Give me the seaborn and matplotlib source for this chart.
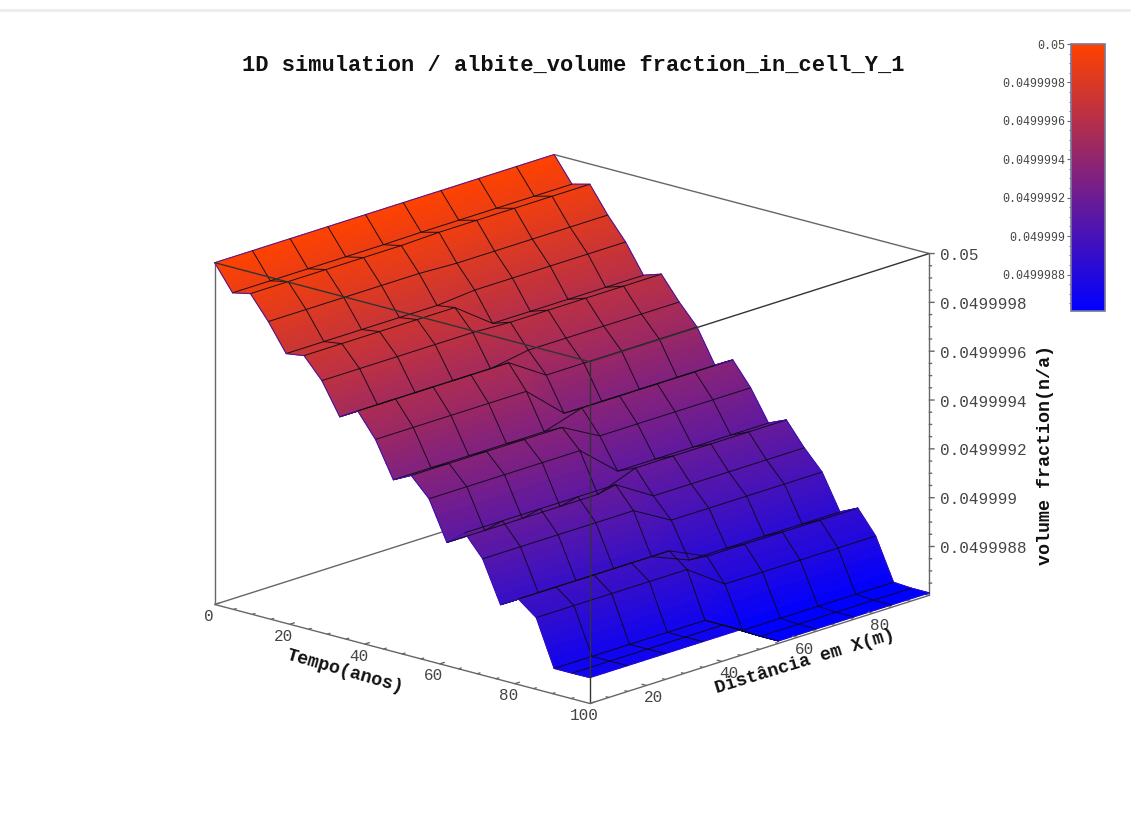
import numpy as np
import matplotlib
matplotlib.use("Agg")
import matplotlib.pyplot as plt
import seaborn as sns
from matplotlib.cm import ScalarMappable
from matplotlib.colors import Normalize
from matplotlib.lines import Line2D
from matplotlib.ticker import MultipleLocator
from mpl_toolkits.mplot3d import proj3d

# eixos da malha
tempo = [0, 4.76, 9.52, 14.29, 19.05, 23.81, 28.57, 33.33, 38.1, 42.86, 47.62,
         52.38, 57.14, 61.9, 66.67, 71.43, 76.19, 80.95, 85.71, 90.48, 95.24, 100]
distancia = [5, 15, 25, 35, 45, 55, 65, 75, 85, 95]

# perfil das colunas X = 5..45
fracao_esq = [0.05, 0.049999896, 0.049999912, 0.049999817, 0.049999705, 0.049999716,
              0.049999633, 0.049999504, 0.049999548, 0.04999945, 0.049999304, 0.049999341,
              0.049999265, 0.049999105, 0.049999164, 0.049999077, 0.049998908, 0.049998951,
              0.049998894, 0.049998705, 0.049998705, 0.049998706]
# perfil das colunas X = 55..95
fracao_dir = [0.05, 0.049999898, 0.049999917, 0.04999981, 0.049999719, 0.049999602,
              0.049999626, 0.049999531, 0.049999448, 0.049999311, 0.049999352, 0.049999257,
              0.049999132, 0.049999164, 0.049999069, 0.049998989, 0.049998845, 0.04999888,
              0.049998785, 0.049998615, 0.04999861, 0.04999861]
colunas_esq = 5
colunas_dir = 5

z_ticks = [0.05, 0.0499998, 0.0499996, 0.0499994, 0.0499992, 0.049999, 0.0499988]
z_labels = ["0.05", "0.0499998", "0.0499996", "0.0499994", "0.0499992", "0.049999", "0.0499988"]
t_ticks = [0, 20, 40, 60, 80, 100]
x_ticks = [20, 40, 60, 80]
t_minor = [5, 10, 15, 25, 30, 35, 45, 50, 55, 65, 70, 75, 85, 90, 95]
x_minor = [10, 15, 25, 30, 35, 45, 50, 55, 65, 70, 75, 85, 90]
z_minor = [0.04999995, 0.0499999, 0.04999985, 0.04999975, 0.0499997, 0.04999965, 0.04999955,
           0.0499995, 0.04999945, 0.04999935, 0.0499993, 0.04999925, 0.04999915, 0.0499991,
           0.04999905, 0.04999895, 0.0499989, 0.04999885, 0.04999875, 0.0499987, 0.04999865]

Z_MIN, Z_MAX = 0.0499986, 0.05
COR_EIXO = "#666666"
COR_FRENTE = "#333333"
COR_TEXTO = "#444444"
MONO = "Liberation Mono"
SUB = 5  # subdivisoes de cada celula, so para o degrade de cor

sns.set_theme(style="white")
plt.rcParams["font.family"] = [MONO, "DejaVu Sans"]

cmap = sns.blend_palette(["#0000ff", "#ff4200"], as_cmap=True)
norm = Normalize(vmin=0.04999861, vmax=Z_MAX)

W, H = 1131, 840
fig = plt.figure(figsize=(W / 100, H / 100), dpi=100, facecolor="white")
ax = fig.add_axes([173.5 / W, 12.5 / H, 776 / W, 776 / H], projection="3d", proj_type="ortho")
ax.set_box_aspect((507, 504, 357))
ax.view_init(elev=16.86, azim=-47.7)
ax.set_xlim(0, 100, view_margin=0)
ax.set_ylim(5, 95, view_margin=0)
ax.set_zlim(Z_MIN, Z_MAX, view_margin=0)
ax.set_axis_off()
ax.computed_zorder = False
ax.patch.set_alpha(0)

T, X = np.meshgrid(tempo, distancia, indexing="ij")
Z = np.array([fracao_esq] * colunas_esq + [fracao_dir] * colunas_dir).T

# sombreamento: as celulas sao repartidas so para a cor variar dentro delas
ni, nj = Z.shape
ii = np.linspace(0, ni - 1, (ni - 1) * SUB + 1)
jj = np.linspace(0, nj - 1, (nj - 1) * SUB + 1)
tf, xf = np.interp(ii, np.arange(ni), tempo), np.interp(jj, np.arange(nj), distancia)
Zf = np.array([np.interp(ii, np.arange(ni), Z[:, j]) for j in range(nj)]).T
Zf = np.array([np.interp(jj, np.arange(nj), linha) for linha in Zf])
Tf, Xf = np.meshgrid(tf, xf, indexing="ij")
media = (Zf[:-1, :-1] + Zf[1:, :-1] + Zf[:-1, 1:] + Zf[1:, 1:]) / 4
cores = cmap(norm(media))
surf = ax.plot_surface(Tf, Xf, Zf, rstride=1, cstride=1, facecolors=cores, shade=False,
                       linewidth=0.8, antialiased=True, zorder=2)
surf.set_edgecolor(cores.reshape(-1, 4))

# malha: linhas internas pretas, contorno azulado
for i in range(ni):
    borda = i == 0 or i == ni - 1
    ax.plot(T[i], X[i], Z[i], color="#3410b8" if borda else "#0a0a14",
            lw=0.7, alpha=0.55 if i == ni - 1 else 0.9, zorder=2.5)
for j in range(nj):
    borda = j == 0 or j == nj - 1
    ax.plot(T[:, j], X[:, j], Z[:, j], color="#3410b8" if borda else "#0a0a14",
            lw=0.7, alpha=0.9, zorder=2.5)


def aresta(p, q, zorder, cor=COR_EIXO):
    ax.plot([p[0], q[0]], [p[1], q[1]], [p[2], q[2]], color=cor, lw=1.0,
            zorder=zorder, clip_on=False)


# caixa: arestas de tras ficam sob a superficie, as da frente por cima
aresta((0, 5, Z_MIN), (0, 95, Z_MIN), 1)
aresta((0, 95, Z_MIN), (100, 95, Z_MIN), 1)
aresta((0, 95, Z_MIN), (0, 95, Z_MAX), 1)
aresta((0, 95, Z_MAX), (100, 95, Z_MAX), 1)
aresta((0, 5, Z_MIN), (0, 5, Z_MAX), 1)
aresta((100, 95, Z_MIN), (100, 95, Z_MAX), 1)
aresta((0, 5, Z_MAX), (100, 5, Z_MAX), 3, COR_FRENTE)
aresta((100, 5, Z_MAX), (100, 95, Z_MAX), 3, COR_FRENTE)
aresta((100, 5, Z_MAX), (100, 5, Z_MIN), 3, COR_FRENTE)
aresta((0, 5, Z_MIN), (100, 5, Z_MIN), 3)
aresta((100, 5, Z_MIN), (100, 95, Z_MIN), 3)

# marcas dos eixos
for t in t_ticks + t_minor:
    d = 1.2 if t in t_ticks else 0.7
    aresta((t, 5, Z_MIN), (t, 5 + d, Z_MIN), 3)
for x in x_ticks + x_minor:
    d = 1.2 if x in x_ticks else 0.7
    aresta((100, x, Z_MIN), (100 - d, x, Z_MIN), 3)
for z in z_ticks + z_minor:
    d = 1.0 if z in z_ticks else 0.5
    aresta((100, 95, z), (100 + d * 0.73, 95 + d * 0.6, z), 3)

M = ax.get_proj()


def rotulo(txt, p, dx, dy, ha="center"):
    px, py, _ = proj3d.proj_transform(p[0], p[1], p[2], M)
    ax.annotate(txt, (px, py), xytext=(dx, dy), textcoords="offset pixels", ha=ha, va="center",
                fontsize=11.5, color=COR_TEXTO, annotation_clip=False)


for t in t_ticks:
    rotulo(str(t), (t, 5, Z_MIN), -6, -12)
for x in x_ticks:
    rotulo(str(x), (100, x, Z_MIN), 7, -12)
for z, lab in zip(z_ticks, z_labels):
    rotulo(lab, (100, 95, z), 11, -2, ha="left")


def texto_fig(px, py, txt, **kw):
    fig.text(px / W, 1 - py / H, txt, ha="center", va="center", family=[MONO, "DejaVu Sans"],
             fontweight="bold", color="#111111", rotation_mode="anchor", **kw)


texto_fig(573, 65, "1D simulation / albite_volume fraction_in_cell_Y_1", fontsize=15.85)
texto_fig(345, 672, "Tempo(anos)", fontsize=13.2, rotation=-16)
texto_fig(805, 662, "Distância em X(m)", fontsize=13.2, rotation=17)
texto_fig(1046, 455, "volume fraction(n/a)", fontsize=13.2, rotation=90)

# barra de cores
cax = fig.add_axes([1071 / W, 1 - 311 / H, 34 / W, 267 / H])
cbar = fig.colorbar(ScalarMappable(norm=norm, cmap=cmap), cax=cax)
cbar.set_ticks(z_ticks, labels=z_labels)
cbar.ax.yaxis.set_ticks_position("left")
cbar.ax.yaxis.set_minor_locator(MultipleLocator(5e-8))
cbar.ax.tick_params(axis="y", which="major", labelsize=8.4, labelcolor=COR_TEXTO, length=3,
                    width=0.8, color=COR_EIXO, pad=1, left=True)
cbar.ax.tick_params(axis="y", which="minor", length=1.5, width=0.7, color=COR_EIXO, left=True)
cbar.outline.set_edgecolor("#77779a")
cbar.outline.set_linewidth(1.2)

# linha clara no topo da pagina
fig.add_artist(Line2D([0, 1], [1 - 9.5 / H, 1 - 9.5 / H], color="#ececec", lw=2))

fig.savefig("out.png", dpi=100)
